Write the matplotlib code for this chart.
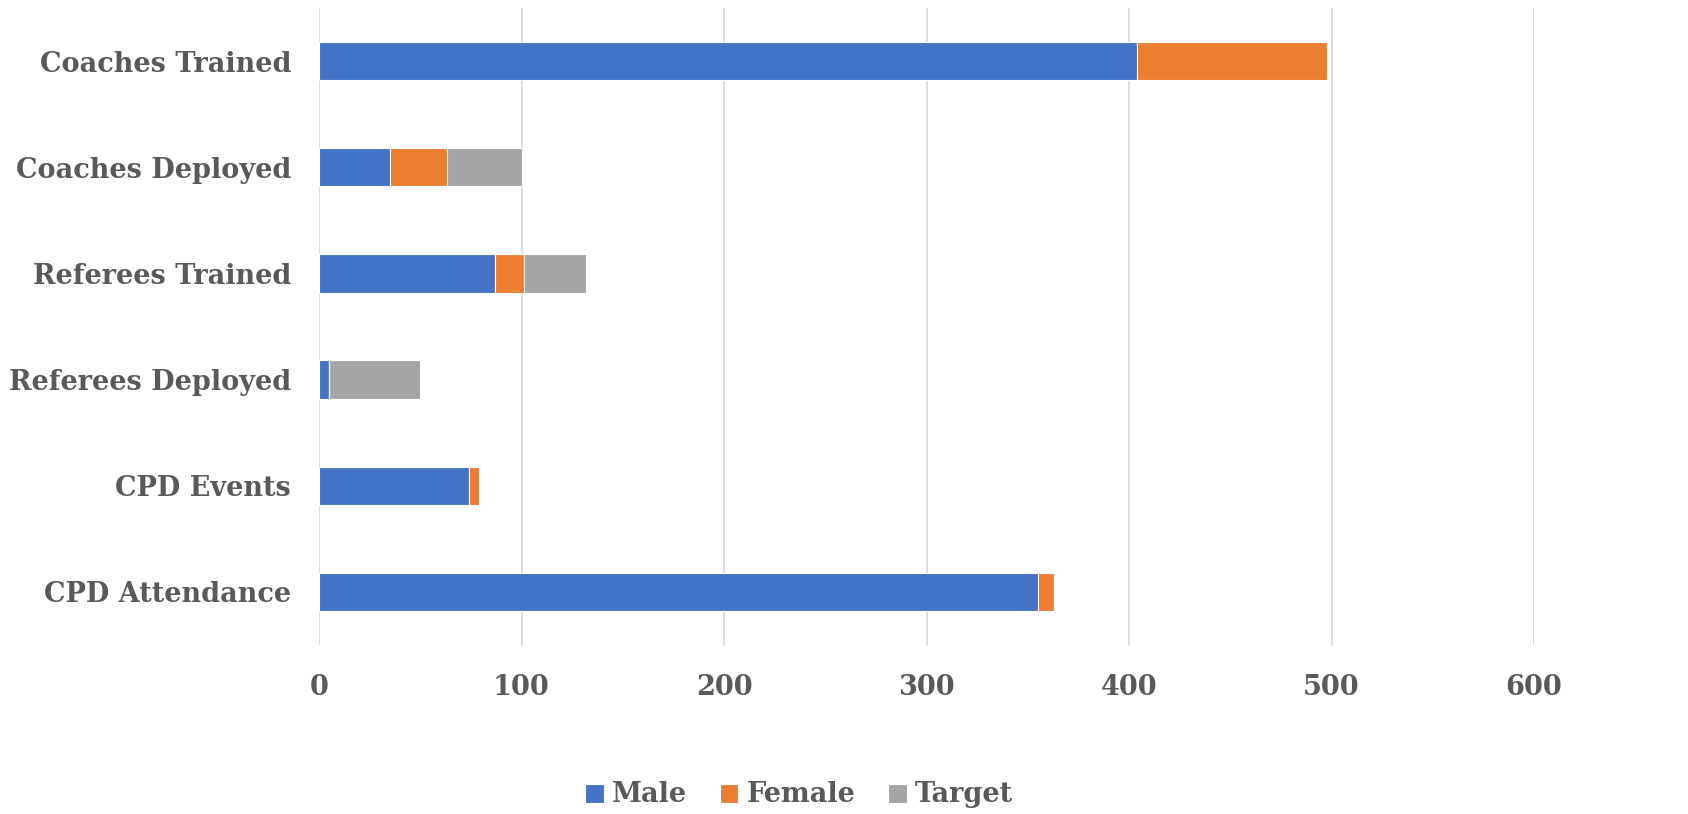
import numpy as np
import matplotlib.pyplot as plt

# categories from top to bottom as shown
categories = ["Coaches Trained", "Coaches Deployed", "Referees Trained",
              "Referees Deployed", "CPD Events", "CPD Attendance"]
male = [404, 35, 87, 5, 74, 355]
female = [94, 28, 14, 0, 5, 8]
target = [0, 37, 31, 45, 0, 0]

text_col = "#595959"
plt.rcParams["font.family"] = ["DejaVu Serif"]
plt.rcParams["font.weight"] = "bold"

fig = plt.figure(figsize=(16.88, 8.14), dpi=100)
ax = fig.add_axes([319 / 1688, 1 - 645 / 814, (1534 - 319) / 1688, 637 / 814])

y = np.arange(len(categories))
h = 0.36
left = np.zeros(len(categories))
for vals, col, name in [(male, "#4472C4", "Male"),
                        (female, "#ED7D31", "Female"),
                        (target, "#A5A5A5", "Target")]:
    ax.barh(y, vals, h, left=left, color=col, label=name,
            edgecolor="white", linewidth=0.8)
    left += np.array(vals)

ax.set_xlim(0, 600)
ax.set_ylim(len(categories) - 0.5, -0.5)
ax.set_yticks(y)
ax.set_yticklabels(categories)
ax.set_xticks(range(0, 601, 100))
ax.tick_params(axis="both", length=0, labelsize=19.5, colors=text_col)
ax.tick_params(axis="y", pad=20)
ax.tick_params(axis="x", pad=21)
ax.grid(axis="x", color="#D9D9D9", linewidth=1.3)
ax.set_axisbelow(True)
for s in ax.spines.values():
    s.set_visible(False)

leg = fig.legend(loc="center", bbox_to_anchor=(799 / 1688, 1 - 795 / 814),
                 ncol=3, frameon=False, fontsize=19.5, handlelength=0.7,
                 handleheight=0.7, handletextpad=0.3, columnspacing=1.2)
for t in leg.get_texts():
    t.set_color(text_col)

fig.savefig("out.png", dpi=100)
